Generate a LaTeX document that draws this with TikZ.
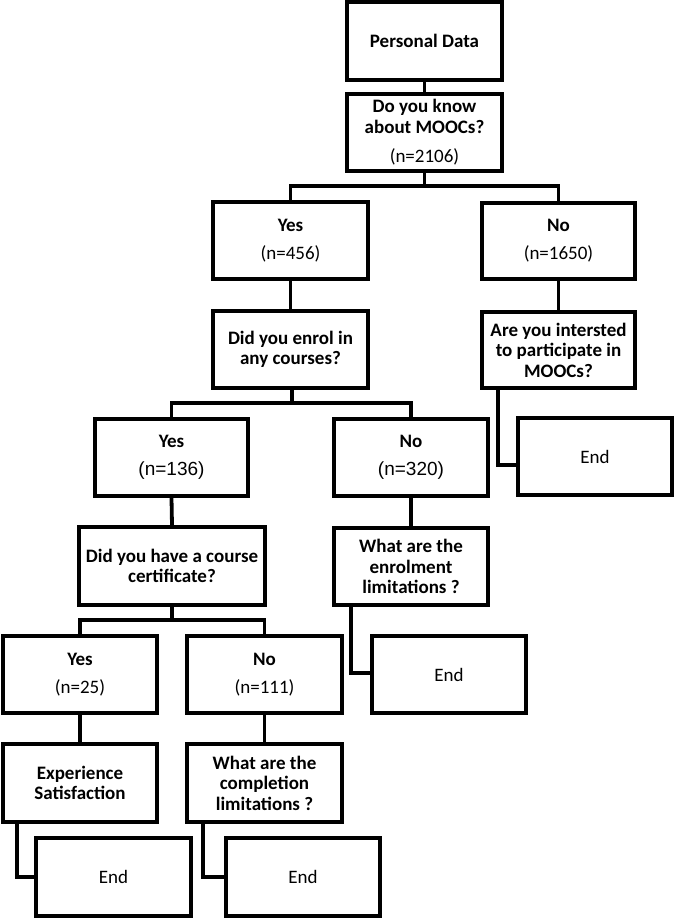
\documentclass[tikz,border=0pt]{standalone}
\usepackage{fontspec}
\setmainfont{Carlito}
\newfontfamily\arialf{Liberation Sans}
\begin{document}
\begin{tikzpicture}[x=1pt,y=-1pt,
  box/.style={draw, line width=3.8pt, inner sep=0pt, align=center,
    font=\fontsize{19}{20.5}\selectfont},
  conn/.style={line width=3.8pt}]
\useasboundingbox (0,0) rectangle (675,920);
% nodes
\node[box, minimum width=155, minimum height=78] (pd) at (424.5,41) {\textbf{Personal Data}};
\node[box, minimum width=155, minimum height=77] (know) at (424.5,132.5) {\textbf{Do you know}\\\textbf{about MOOCs?}\\[9pt](n=2106)};
\node[box, minimum width=155, minimum height=77] (yes1) at (290.5,240.5) {\textbf{Yes}\\[7.5pt](n=456)};
\node[box, minimum width=153, minimum height=76] (no1) at (558.5,241) {\textbf{No}\\[7.5pt](n=1650)};
\node[box, minimum width=155, minimum height=77] (enrol) at (290.5,349.5) {\textbf{Did you enrol in}\\\textbf{any courses?}};
\node[box, minimum width=153, minimum height=76] (interest) at (558.5,350) {\textbf{Are you intersted}\\\textbf{to participate in}\\\textbf{MOOCs?}};
\node[box, minimum width=154, minimum height=77] (end1) at (595,456.5) {End};
\node[box, minimum width=153, minimum height=77] (yes2) at (171.5,457.5) {\textbf{Yes}\\[7.5pt]{\arialf (n=136)}};
\node[box, minimum width=154, minimum height=77] (no2) at (411,457.5) {\textbf{No}\\[7.5pt]{\arialf (n=320)}};
\node[box, minimum width=186, minimum height=78] (cert) at (172,566) {\textbf{Did you have a course}\\\textbf{certificate?}};
\node[box, minimum width=154, minimum height=77] (enrollim) at (411,566.5) {\textbf{What are the}\\\textbf{enrolment}\\\textbf{limitations ?}};
\node[box, minimum width=154, minimum height=77] (end2) at (449,674.5) {End};
\node[box, minimum width=154, minimum height=77] (yes3) at (80,674.5) {\textbf{Yes}\\[7.5pt](n=25)};
\node[box, minimum width=155, minimum height=77] (no3) at (264.5,674.5) {\textbf{No}\\[7.5pt](n=111)};
\node[box, minimum width=154, minimum height=78] (exp) at (80,783) {\textbf{Experience}\\\textbf{Satisfaction}};
\node[box, minimum width=155, minimum height=78] (comp) at (264.5,783) {\textbf{What are the}\\\textbf{completion}\\\textbf{limitations ?}};
\node[box, minimum width=155, minimum height=78] (end3) at (113.5,877) {End};
\node[box, minimum width=154, minimum height=78] (end4) at (303,877) {End};
% helper coordinates
\coordinate (j1) at (424.5,186);
\coordinate (j2) at (292,403);
\coordinate (j3) at (172,620);
\coordinate (k1) at (498,465);
\coordinate (k2) at (351,673);
\coordinate (k3) at (17,877);
\coordinate (k4) at (203,877);
% connectors
\draw[conn] (pd.south) -- (know.north);
\draw[conn] (know.south) -- (j1);
\draw[conn] (yes1.north) |- (j1) -| (no1.north);
\draw[conn] (yes1.south) -- (enrol.north);
\draw[conn] (no1.south) -- (interest.north);
\draw[conn] (interest.south -| k1) |- (end1.west |- k1);
\draw[conn] (enrol.south -| j2) -- (j2);
\draw[conn] (yes2.north) |- (j2) -| (no2.north);
\draw[conn] (yes2.south) -- (cert.north);
\draw[conn] (no2.south) -- (enrollim.north);
\draw[conn] (enrollim.south -| k2) |- (end2.west |- k2);
\draw[conn] (cert.south -| j3) -- (j3);
\draw[conn] (yes3.north) |- (j3) -| (no3.north);
\draw[conn] (yes3.south) -- (exp.north);
\draw[conn] (no3.south) -- (comp.north);
\draw[conn] (exp.south -| k3) |- (end3.west);
\draw[conn] (comp.south -| k4) |- (end4.west);
\end{tikzpicture}
\end{document}
